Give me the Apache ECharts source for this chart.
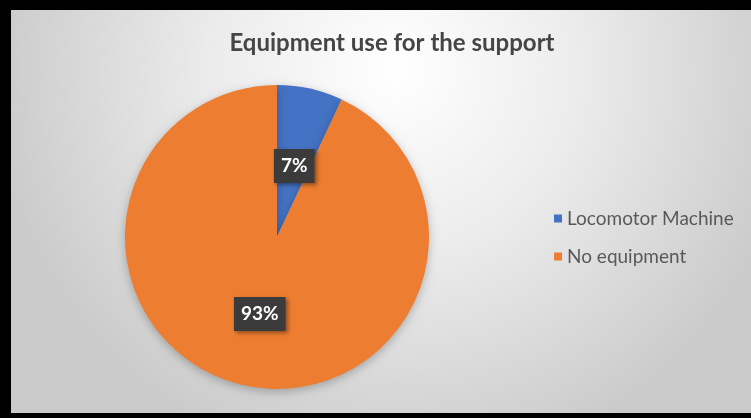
<!DOCTYPE html>
<html>
<head>
<meta charset="utf-8">
<script src="https://cdn.jsdelivr.net/npm/echarts@6/dist/echarts.min.js"></script>
<style>
  html, body { margin: 0; padding: 0; background: #000; }
  #chart { width: 751px; height: 418px; }
</style>
</head>
<body>
<div id="chart"></div>
<script>
// Chart content
const chartTitle = 'Equipment use for the support';
const categories = ['Locomotor Machine', 'No equipment'];
const shares = [7, 93];
const sliceColors = ['#4472C4', '#ED7D31'];

const chart = echarts.init(document.getElementById('chart'), null, { renderer: 'canvas' });

const pieData = categories.map((name, i) => ({
  name: name,
  value: shares[i],
  itemStyle: { color: sliceColors[i] },
  // the narrow slice's tag sits a little lower, nearer the middle of the wedge
  label: i === 0 ? { offset: [0, 6] } : {}
}));

chart.setOption({
  backgroundColor: '#000',
  graphic: [
    {
      // plot panel with soft radial shading, framed by the dark page edge
      type: 'rect',
      silent: true,
      z: -10,
      shape: { x: 11, y: 10, width: 740, height: 403 },
      style: {
        fill: {
          type: 'radial', x: 0.52, y: 0.15, r: 1.0,
          colorStops: [
            { offset: 0, color: '#ffffff' },
            { offset: 0.45, color: '#ececec' },
            { offset: 1, color: '#cbcbcb' }
          ]
        }
      }
    }
  ],
  title: {
    text: chartTitle,
    left: 387,
    top: 26,
    textAlign: 'center',
    textStyle: {
      fontFamily: 'Lato',
      fontSize: 24,
      fontWeight: 'bold',
      color: '#454545'
    }
  },
  legend: {
    orient: 'vertical',
    left: 549,
    top: 204,
    itemWidth: 8,
    itemHeight: 8,
    itemGap: 19,
    icon: 'rect',
    textStyle: {
      fontFamily: 'Lato',
      fontSize: 19,
      color: '#595959'
    },
    data: categories
  },
  series: [
    {
      type: 'pie',
      center: [277, 237],
      radius: [0, 152],
      startAngle: 90,
      clockwise: true,
      avoidLabelOverlap: false,
      itemStyle: {
        borderWidth: 0,
        shadowBlur: 10,
        shadowColor: 'rgba(0,0,0,0.25)',
        shadowOffsetY: 3
      },
      label: {
        show: true,
        position: 'inside',
        formatter: '{c}%',
        fontFamily: 'Lato',
        fontWeight: 'bold',
        fontSize: 19,
        color: '#ffffff',
        backgroundColor: '#3b3b3b',
        padding: [8, 7, 7, 7],
        shadowBlur: 4,
        shadowColor: 'rgba(0,0,0,0.4)',
        shadowOffsetX: 2,
        shadowOffsetY: 2
      },
      labelLine: { show: false },
      emphasis: { disabled: true },
      data: pieData
    }
  ]
});
</script>
</body>
</html>
